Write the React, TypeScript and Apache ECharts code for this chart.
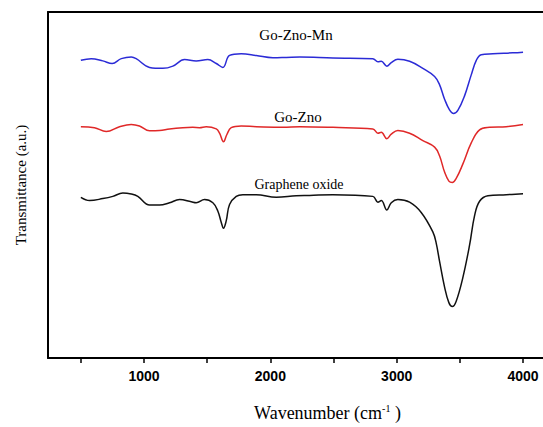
import React, { useEffect, useRef } from "react";
import * as echarts from "echarts";

// Go-Zno-Mn (blue)
const mnWavenumber = [500, 582, 674, 748, 820, 899, 938, 1044, 1149, 1228, 1321, 1413, 1505, 1572, 1624, 1677, 1769, 1888, 2020, 2126, 2233, 2495, 2811, 2851, 2878, 2922, 2957, 3009, 3102, 3207, 3300, 3339, 3379, 3418, 3450, 3484, 3537, 3590, 3630, 3669, 3761, 3919, 4000];
const mnTransmittance = [306.3, 308, 305.7, 303, 308, 309.7, 308, 299, 298, 300.3, 307, 305.7, 307, 303, 299, 311.3, 313, 311.3, 309, 309.3, 309.7, 308.7, 308, 304.7, 305.3, 300.3, 304, 307.3, 305.3, 298, 289.7, 281.3, 266.3, 255.3, 251.5, 254.7, 269.7, 291.3, 306.3, 312, 313, 314, 314.7];

// Go-Zno (red)
const znWavenumber = [500, 608, 701, 806, 899, 964, 1044, 1123, 1202, 1307, 1386, 1439, 1492, 1572, 1598, 1629, 1655, 1690, 1769, 1888, 2099, 2233, 2495, 2811, 2851, 2878, 2922, 2957, 3009, 3102, 3207, 3300, 3339, 3379, 3413, 3440, 3471, 3524, 3590, 3656, 3735, 3867, 4000];
const znTransmittance = [238, 237, 233, 238, 240.3, 238.7, 233.7, 234, 235.7, 237, 237.3, 237, 238, 235.7, 231.3, 222.5, 229.7, 237, 238.7, 238, 237.3, 238, 237.3, 235.7, 231.3, 232.3, 225.7, 230.3, 234, 231.3, 223.7, 217, 208, 191.3, 182, 180.5, 184.7, 199.7, 221.3, 234.7, 237.3, 238, 240.3];

// Graphene oxide (black)
const goWavenumber = [500, 569, 674, 753, 832, 899, 951, 1044, 1123, 1202, 1281, 1374, 1413, 1479, 1545, 1584, 1611, 1629, 1651, 1677, 1730, 1782, 1888, 2047, 2205, 2310, 2495, 2811, 2851, 2878, 2922, 2957, 3009, 3102, 3194, 3286, 3313, 3339, 3379, 3413, 3440, 3471, 3524, 3577, 3616, 3656, 3722, 3867, 4000];
const goTransmittance = [165.3, 162, 164, 166.3, 169.7, 168.7, 166.3, 157.3, 157.3, 159.7, 163, 160.7, 159.7, 163, 159.7, 151.3, 139.7, 133.5, 141.3, 158, 166.3, 168, 168, 165.3, 167, 167.3, 168, 166.3, 160.3, 162, 152.3, 159.7, 163, 160.3, 149.7, 129.7, 118, 99.7, 73, 57, 53, 58.5, 83, 116.3, 146.3, 161.3, 167, 168, 169];

const tickValues = [500, 1000, 1500, 2000, 2500, 3000, 3500, 4000];
const labelValues = [1000, 2000, 3000, 4000];

const seriesNames = ["Go-Zno-Mn", "Go-Zno", "Graphene oxide"];

const pair = (xs: number[], ys: number[]) => xs.map((x, i) => [x, ys[i]]);

const SERIF = "'Liberation Serif', 'Times New Roman', serif";
const SANS = "'Liberation Sans', Arial, sans-serif";

export default function App() {
  const ref = useRef<HTMLDivElement>(null);
  useEffect(() => {
    if (!ref.current) return;
    const chart = echarts.init(ref.current, undefined, { renderer: "svg" });
    const lineStyle = (color: string) => ({ color, width: 1.5 });
    const common = {
      type: "line",
      showSymbol: false,
      smooth: 0.4,
    };
    const label = (text: string, x: number, y: number, size: number) => ({
      type: "text",
      x,
      y,
      style: {
        text,
        font: `${size}px ${SERIF}`,
        fontFamily: SERIF,
        fontSize: size,
        fill: "#000",
        align: "center",
        verticalAlign: "middle",
      },
    });
    chart.setOption({
      animation: false,
      backgroundColor: "#fff",
      grid: {
        left: 48,
        top: 12,
        right: 0,
        bottom: 59,
        show: false,
        containLabel: false,
      },
      xAxis: [
        {
          type: "value",
          min: 240,
          max: 4158,
          position: "bottom",
          name: "{a|Wavenumber (cm}{s|-1}{a| )}",
          nameLocation: "middle",
          nameGap: 45,
          nameTextStyle: {
            padding: [0, 0, 0, 64],
            rich: {
              a: { fontFamily: SERIF, fontSize: 18, color: "#000", lineHeight: 20 },
              s: { fontFamily: SERIF, fontSize: 10, color: "#000", verticalAlign: "top", lineHeight: 20 },
            },
          },
          axisLine: { show: true, lineStyle: { color: "#000", width: 2 } },
          axisTick: {
            show: true,
            customValues: tickValues,
            length: 5,
            inside: false,
            lineStyle: { color: "#000", width: 1.5 },
          },
          axisLabel: {
            customValues: labelValues,
            formatter: (v: number) => String(v),
            fontFamily: SANS,
            fontWeight: "bold",
            fontSize: 14,
            color: "#000",
            margin: 11,
          },
          splitLine: { show: false },
        },
        {
          type: "value",
          min: 240,
          max: 4158,
          position: "top",
          axisLine: { show: true, lineStyle: { color: "#000", width: 2 } },
          axisTick: { show: false },
          axisLabel: { show: false },
          splitLine: { show: false },
        },
      ],
      yAxis: {
        type: "value",
        min: 0,
        max: 356,
        name: "Transmittance (a.u.)",
        nameLocation: "middle",
        nameGap: 20,
        nameTextStyle: { fontFamily: SERIF, fontSize: 15, color: "#000" },
        axisLine: { show: true, lineStyle: { color: "#000", width: 2 } },
        axisTick: { show: false },
        axisLabel: { show: false },
        splitLine: { show: false },
      },
      series: [
        {
          ...common,
          name: seriesNames[0],
          data: pair(mnWavenumber, mnTransmittance),
          lineStyle: lineStyle("#2b2bd6"),
        },
        {
          ...common,
          name: seriesNames[1],
          data: pair(znWavenumber, znTransmittance),
          lineStyle: lineStyle("#e02828"),
        },
        {
          ...common,
          name: seriesNames[2],
          data: pair(goWavenumber, goTransmittance),
          lineStyle: lineStyle("#111"),
        },
      ],
      graphic: [
        label(seriesNames[0], 296, 35, 15),
        label(seriesNames[1], 298, 117, 15),
        label(seriesNames[2], 299, 184, 14),
      ],
    });
    return () => chart.dispose();
  }, []);
  return <div ref={ref} style={{ width: 543, height: 427, position: "fixed", left: 0, top: 0 }} />;
}
